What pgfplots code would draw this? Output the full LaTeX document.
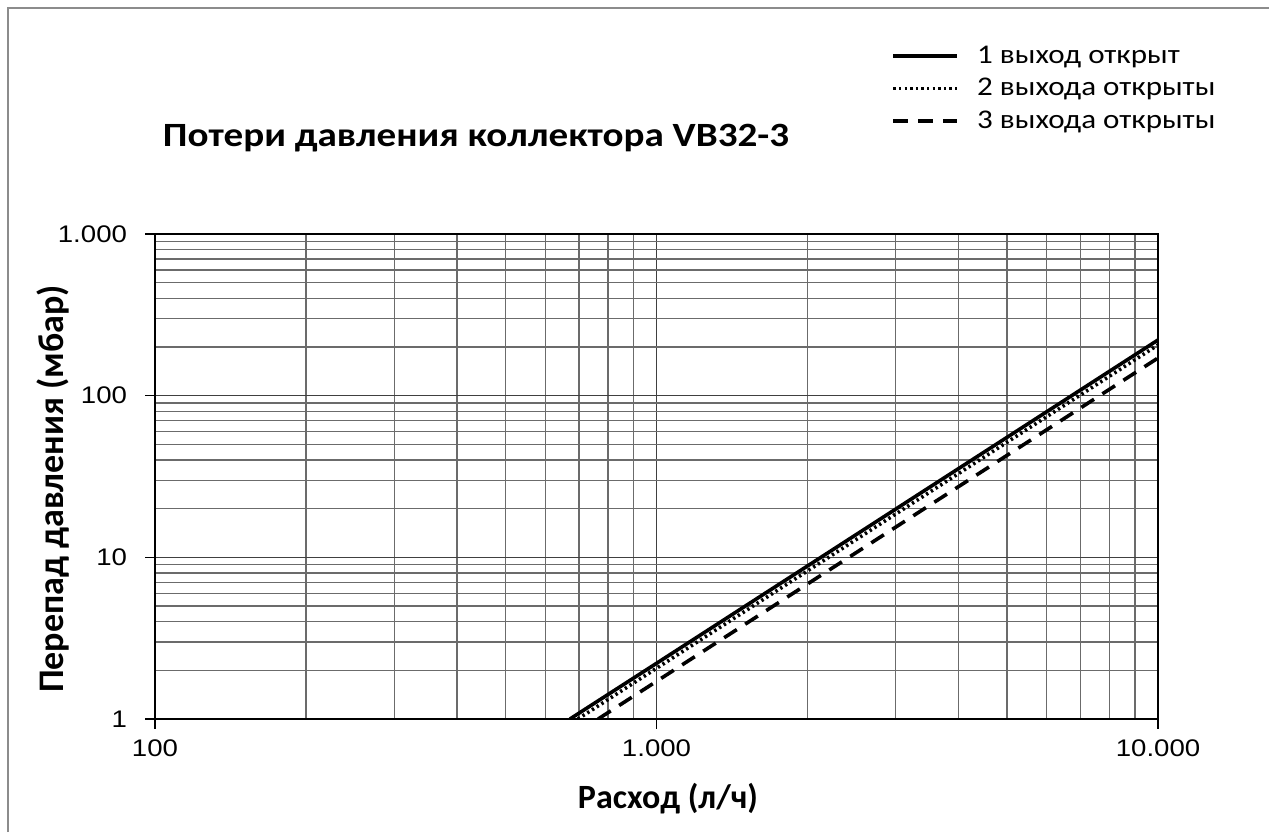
\documentclass[border=0pt]{standalone}
\usepackage{pgfplots}
\pgfplotsset{compat=1.18}
\usepackage{fontspec}
\setmainfont{Carlito}[FakeStretch=1.15]
\newfontfamily\plainfont{Carlito}
\newfontfamily\tickfont{Liberation Sans}[FakeStretch=1.15]
\begin{document}
\begin{tikzpicture}[x=1pt,y=1pt]
\useasboundingbox (0,0) rectangle (634.5,416);
\draw[black!45, line width=1.2pt] (4,0) -- (4,412) -- (634.5,412);
\begin{loglogaxis}[
  at={(77.5pt,56.5pt)}, anchor=south west,
  scale only axis, width=501.5pt, height=242.5pt,
  xmin=100, xmax=10000, ymin=1, ymax=1000,
  xtick={100,1000,10000}, xticklabels={100,{1.000},{10.000}},
  ytick={1,10,100,1000}, yticklabels={1,10,100,{1.000}},
  minor xtick={200,300,400,500,600,700,800,900,2000,3000,4000,5000,6000,7000,8000,9000},
  minor ytick={2,3,4,5,6,7,8,9,20,30,40,50,60,70,80,90,200,300,400,500,600,700,800,900},
  grid=both,
  major grid style={black!75, line width=0.8pt},
  minor grid style={black!58, line width=0.7pt},
  xtick pos=bottom, ytick pos=left,
  tick align=outside, major tick length=5pt, minor tick length=0pt,
  tick style={black, line width=0.8pt},
  axis line style={line width=1.3pt},
  ticklabel style={font=\tickfont\fontsize{12}{14}\selectfont},
  xticklabel style={anchor=north, yshift=-2pt},
  yticklabel style={anchor=east, xshift=-5.5pt},
  legend style={at={(0.728,1.405)}, anchor=north west, draw=none, fill=none,
    font=\fontsize{13.5}{16}\selectfont, row sep=2pt,
    /tikz/every odd column/.append style={column sep=7pt}},
  legend cell align=left,
  legend image code/.code={\draw[#1] (0pt,0pt) -- (32pt,0pt);},
]
\addplot[black, line width=1.8pt] coordinates {(672,1) (1000,2.21) (10000,221)};
\addlegendentry{1 выход открыт}
\addplot[black, line width=1.8pt, dash pattern=on 1.2pt off 1.6pt] coordinates {(697,1) (1000,2.06) (10000,206)};
\addlegendentry{2 выхода открыты}
\addplot[black, line width=1.8pt, dash pattern=on 7.5pt off 5pt] coordinates {(765,1) (1000,1.71) (10000,171)};
\addlegendentry{3 выхода открыты}
\end{loglogaxis}
\node[anchor=base, font=\bfseries\fontsize{17}{20}\selectfont] at (238,342.5) {Потери давления коллектора VB32-3};
\node[anchor=base, font=\plainfont\bfseries\fontsize{17}{20}\selectfont] at (334,12) {Расход (л/ч)};
\node[anchor=base, rotate=90, font=\plainfont\bfseries\fontsize{18}{21}\selectfont] at (31.5,171.5) {Перепад давления (мбар)};
\end{tikzpicture}
\end{document}
